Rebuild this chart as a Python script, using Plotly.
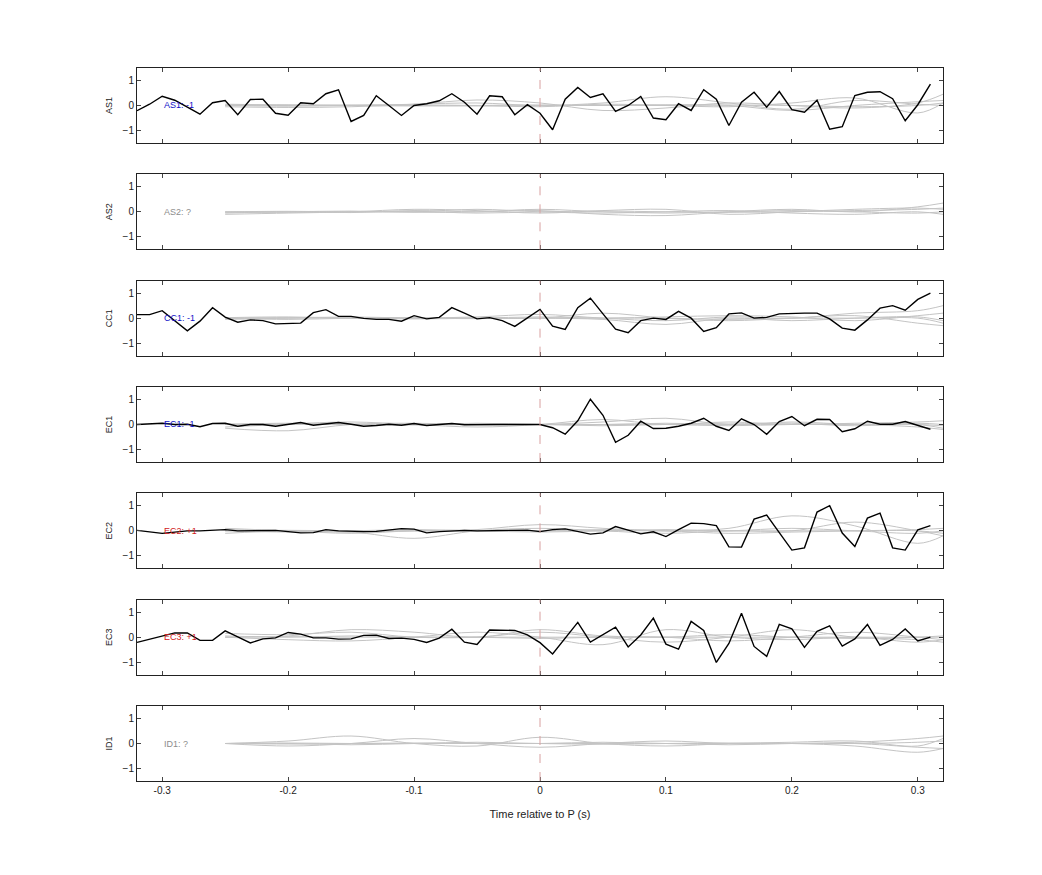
import plotly.graph_objects as go
from plotly.subplots import make_subplots

# time axis of the single-trace (black) data, 0.01 s steps
t = [round(-0.32 + 0.01 * i, 2) for i in range(64)]
# knot times for the smooth gray curves
tk = [-0.25, -0.2, -0.15, -0.1, -0.05, 0.0, 0.05, 0.1, 0.15, 0.2, 0.25, 0.3, 0.32]

stations = ["AS1", "AS2", "CC1", "EC1", "EC2", "EC3", "ID1"]
polarity = ["AS1: -1", "AS2: ?", "CC1: -1", "EC1: -1", "EC2: +1", "EC3: +1", "ID1: ?"]
label_colors = ["#1010c8", "#8c8c8c", "#1010c8", "#1010c8", "#d02020", "#d02020", "#8c8c8c"]

as1 = [-0.21, 0.05, 0.37, 0.21, -0.07, -0.35, 0.11, 0.2, -0.37, 0.24, 0.25, -0.31, -0.39, 0.11, 0.07, 0.47,
       0.63, -0.64, -0.4, 0.39, 0.0, -0.4, 0.0, 0.07, 0.19, 0.47, 0.13, -0.35, 0.39, 0.35, -0.37, 0.03,
       -0.31, -0.97, 0.25, 0.72, 0.32, 0.47, -0.24, 0.0, 0.36, -0.5, -0.57, 0.07, -0.2, 0.63, 0.25, -0.8,
       0.13, 0.53, -0.07, 0.56, -0.17, -0.27, 0.21, -0.95, -0.85, 0.4, 0.53, 0.55, 0.27, -0.61, 0.03, 0.85]
cc1 = [0.14, 0.14, 0.3, -0.1, -0.51, -0.12, 0.42, 0.04, -0.16, -0.07, -0.1, -0.23, -0.23, -0.2, 0.22, 0.34,
       0.07, 0.07, -0.01, -0.05, -0.05, -0.12, 0.1, -0.03, 0.03, 0.42, 0.2, -0.03, 0.02, -0.1, -0.33, 0.02,
       0.35, -0.32, -0.45, 0.42, 0.8, 0.17, -0.44, -0.58, -0.1, 0.0, -0.05, 0.27, 0.0, -0.53, -0.38, 0.17,
       0.21, 0.0, 0.03, 0.17, 0.2, 0.2, 0.2, -0.03, -0.4, -0.48, -0.07, 0.4, 0.5, 0.32, 0.75, 1.0]
ec1 = [0.0, 0.01, 0.05, 0.0, 0.01, -0.09, 0.04, 0.05, -0.07, 0.0, 0.0, -0.07, 0.01, 0.08, -0.03, 0.01,
       0.08, 0.01, -0.07, -0.04, 0.01, -0.03, 0.04, -0.04, -0.01, 0.04, -0.01, 0.0, -0.01, 0.0, 0.0, 0.0,
       0.0, -0.13, -0.39, 0.15, 1.01, 0.37, -0.71, -0.43, 0.13, -0.16, -0.15, -0.07, 0.05, 0.25, -0.07, -0.24,
       0.23, 0.0, -0.39, 0.12, 0.32, -0.05, 0.21, 0.2, -0.29, -0.17, 0.13, 0.01, 0.01, 0.12, -0.05, -0.19]
ec2 = [0.02, -0.05, -0.1, -0.05, 0.0, 0.0, 0.02, 0.05, 0.0, 0.0, 0.0, 0.02, -0.03, -0.08, -0.07, 0.05,
       0.0, -0.02, -0.03, -0.02, 0.05, 0.09, 0.07, -0.08, -0.03, 0.0, 0.02, 0.0, 0.0, 0.0, 0.02, 0.03,
       -0.03, 0.05, 0.08, -0.03, -0.13, -0.08, 0.17, 0.03, -0.12, -0.04, -0.23, 0.05, 0.31, 0.29, 0.21, -0.64,
       -0.65, 0.47, 0.63, -0.07, -0.77, -0.68, 0.75, 1.01, -0.09, -0.63, 0.51, 0.71, -0.68, -0.77, 0.04, 0.21]
ec3 = [-0.21, -0.08, 0.04, 0.17, 0.17, -0.13, -0.13, 0.25, 0.01, -0.23, -0.07, -0.03, 0.19, 0.12, -0.03, -0.03,
       -0.08, -0.07, 0.07, 0.08, -0.05, -0.04, -0.09, -0.21, -0.04, 0.32, -0.2, -0.29, 0.29, 0.28, 0.27, 0.09,
       -0.22, -0.67, -0.04, 0.59, -0.2, 0.09, 0.4, -0.39, 0.09, 0.76, -0.28, -0.48, 0.63, 0.27, -1.01, -0.25,
       0.96, -0.37, -0.77, 0.51, 0.33, -0.41, 0.23, 0.45, -0.36, -0.07, 0.51, -0.33, -0.09, 0.33, -0.15, 0.0]
black = {"AS1": as1, "CC1": cc1, "EC1": ec1, "EC2": ec2, "EC3": ec3}

# smooth gray comparison curves, values at the knot times tk
gray = {
    "AS1": [[0.0, 0.02, 0.0, -0.02, 0.0, 0.02, 0.0, 0.0, 0.02, 0.0, -0.05, 0.0, 0.1],
            [-0.05, -0.08, -0.05, 0.05, 0.22, 0.1, -0.2, -0.1, 0.1, 0.0, -0.1, 0.1, 0.45],
            [0.05, 0.02, 0.0, 0.05, 0.1, 0.0, 0.1, 0.35, 0.1, -0.15, 0.2, 0.05, 0.0],
            [0.0, -0.03, 0.0, 0.02, 0.0, -0.05, 0.05, 0.0, -0.05, 0.1, 0.3, -0.3, 0.1],
            [0.02, 0.0, 0.02, 0.0, -0.02, 0.0, 0.0, 0.03, 0.0, -0.2, 0.0, 0.15, 0.2]],
    "AS2": [[-0.05, 0.0, -0.03, 0.05, 0.0, 0.05, -0.1, -0.15, 0.0, 0.1, 0.0, 0.2, 0.35],
            [-0.1, -0.05, 0.0, 0.1, 0.05, -0.05, 0.05, 0.1, -0.1, 0.0, 0.1, 0.15, 0.1],
            [0.0, 0.02, 0.0, 0.0, 0.1, 0.0, -0.05, 0.0, 0.05, -0.05, -0.1, 0.0, -0.1],
            [-0.02, 0.0, 0.03, -0.02, 0.0, 0.1, 0.0, -0.05, 0.0, 0.05, 0.0, -0.05, 0.0],
            [0.0, -0.02, 0.0, 0.02, -0.05, 0.0, 0.03, 0.0, -0.02, 0.0, 0.05, 0.1, 0.15]],
    "CC1": [[0.0, 0.02, 0.0, 0.0, 0.05, 0.15, 0.0, -0.1, 0.05, 0.0, 0.2, 0.3, 0.5],
            [0.0, -0.05, 0.0, 0.02, 0.0, 0.0, 0.2, 0.0, -0.1, 0.0, 0.1, -0.2, -0.3],
            [-0.05, 0.0, 0.05, 0.0, 0.0, 0.0, -0.05, -0.25, 0.0, -0.1, 0.0, 0.05, -0.1],
            [0.02, 0.05, 0.0, -0.03, 0.0, 0.05, 0.0, 0.05, 0.1, 0.05, -0.1, 0.1, 0.2],
            [0.0, 0.0, 0.02, 0.0, -0.02, 0.0, 0.0, 0.0, -0.05, 0.0, 0.0, 0.0, -0.2]],
    "EC1": [[-0.15, -0.25, 0.0, 0.05, 0.0, 0.0, 0.0, 0.05, 0.0, 0.0, 0.0, 0.0, -0.05],
            [0.0, 0.03, 0.1, 0.0, -0.1, 0.0, 0.2, 0.0, 0.1, 0.0, 0.05, 0.1, 0.15],
            [-0.1, 0.0, 0.02, 0.0, 0.0, 0.0, 0.1, 0.25, 0.0, 0.1, 0.0, 0.0, -0.15],
            [0.0, 0.05, 0.0, 0.0, 0.05, 0.0, 0.0, 0.0, -0.05, 0.0, 0.0, -0.1, -0.2],
            [0.02, 0.0, 0.0, -0.02, 0.0, 0.0, -0.05, 0.0, 0.02, 0.05, -0.05, 0.05, 0.0]],
    "EC2": [[0.05, 0.0, -0.05, 0.0, 0.05, 0.25, 0.1, 0.0, 0.1, 0.6, 0.2, -0.5, -0.2],
            [0.0, -0.05, -0.05, -0.3, 0.0, 0.1, 0.0, -0.1, 0.0, 0.0, 0.35, 0.0, -0.2],
            [0.1, 0.0, -0.1, 0.0, 0.0, 0.0, 0.05, 0.0, -0.1, -0.05, 0.0, 0.05, 0.1],
            [-0.1, 0.0, 0.0, 0.05, 0.0, -0.05, 0.0, 0.0, 0.0, 0.1, 0.0, -0.1, 0.0],
            [0.0, 0.02, 0.0, 0.0, -0.02, 0.0, 0.0, 0.05, 0.0, 0.0, 0.0, 0.0, -0.1]],
    "EC3": [[0.15, 0.1, 0.2, 0.0, 0.0, 0.2, 0.0, -0.2, 0.0, 0.3, 0.0, -0.1, -0.2],
            [0.0, 0.05, 0.3, 0.2, 0.0, 0.3, 0.05, 0.0, -0.15, 0.0, 0.2, 0.0, -0.1],
            [0.0, -0.1, -0.15, 0.0, 0.2, 0.0, -0.3, 0.3, 0.0, -0.1, 0.0, -0.2, -0.1],
            [0.05, 0.0, 0.05, 0.0, 0.0, -0.05, 0.0, 0.0, 0.1, 0.0, -0.05, 0.0, 0.05],
            [0.0, 0.02, 0.0, 0.0, 0.0, 0.0, 0.0, 0.0, 0.0, 0.0, 0.0, 0.0, 0.0]],
    "ID1": [[0.0, 0.1, 0.3, 0.0, -0.1, 0.25, 0.0, -0.1, 0.0, 0.05, 0.1, -0.1, 0.2],
            [0.0, -0.1, 0.0, 0.2, 0.0, -0.15, 0.0, 0.1, 0.0, 0.0, -0.1, -0.35, -0.2],
            [0.0, 0.0, -0.05, 0.0, 0.05, 0.0, 0.0, 0.0, -0.05, 0.0, 0.05, 0.2, 0.3],
            [0.0, 0.02, 0.0, 0.0, 0.0, 0.0, 0.05, 0.0, 0.0, 0.0, 0.0, 0.05, 0.1],
            [0.0, -0.02, 0.0, 0.02, 0.0, 0.0, -0.03, 0.0, 0.02, 0.0, 0.0, -0.15, -0.2]],
}

n = len(stations)
fig = make_subplots(rows=n, cols=1, shared_xaxes=True, vertical_spacing=0.044)

for i, st in enumerate(stations):
    r = i + 1
    for g in gray[st]:
        fig.add_trace(go.Scatter(x=tk, y=g, mode="lines", line=dict(color="#c4c4c4", width=1, shape="spline"),
                                 showlegend=False, hoverinfo="skip"), row=r, col=1)
    if st in black:
        fig.add_trace(go.Scatter(x=t, y=black[st], mode="lines", line=dict(color="black", width=1.4),
                                 showlegend=False), row=r, col=1)
    xr = "x" if r == 1 else "x%d" % r
    yr = "y" if r == 1 else "y%d" % r
    fig.add_shape(type="line", x0=0, x1=0, y0=0, y1=1, xref=xr, yref=yr + " domain",
                  line=dict(color="#d8a0a0", width=1, dash="dash"))
    fig.add_annotation(x=-0.3, y=0, xref=xr, yref=yr, text=polarity[i], showarrow=False, xanchor="left",
                       font=dict(size=9, color=label_colors[i]))
    fig.update_yaxes(row=r, col=1, range=[-1.5, 1.5], tickvals=[-1, 0, 1], ticks="inside", ticklen=4,
                     mirror="ticks", showline=True, linecolor="#222", linewidth=1, showgrid=False,
                     zeroline=False, title=dict(text=st, font=dict(size=9), standoff=8),
                     tickfont=dict(size=10))
    fig.update_xaxes(row=r, col=1, range=[-0.32, 0.32], tickvals=[-0.3, -0.2, -0.1, 0, 0.1, 0.2, 0.3],
                     ticktext=["-0.3", "-0.2", "-0.1", "0", "0.1", "0.2", "0.3"],
                     ticks="inside", ticklen=4, mirror="ticks", showline=True, linecolor="#222", linewidth=1,
                     showgrid=False, zeroline=False, tickfont=dict(size=10))

fig.update_xaxes(row=n, col=1, title=dict(text="Time relative to P (s)", font=dict(size=11)))
fig.update_layout(width=1042, height=875, plot_bgcolor="white", paper_bgcolor="white",
                  margin=dict(l=129, r=107, t=60, b=102),
                  font=dict(family="Liberation Sans, Arial, sans-serif", color="#222"))
fig.write_html("out.html")
